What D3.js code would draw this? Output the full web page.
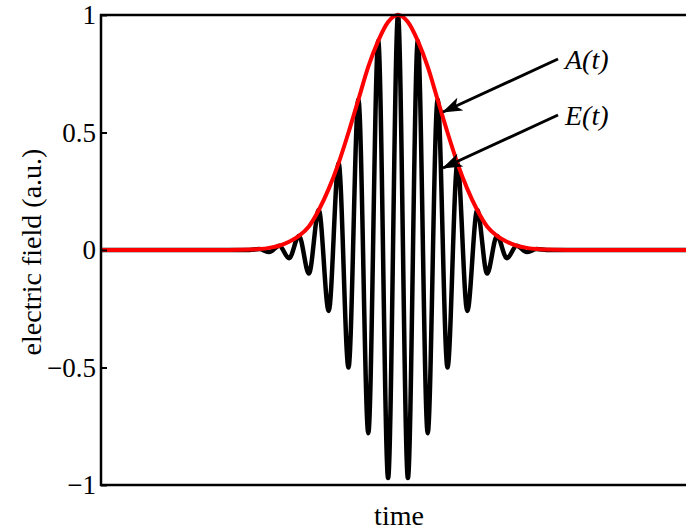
<!DOCTYPE html>
<html><head><meta charset="utf-8">
<script src="https://cdn.jsdelivr.net/npm/d3@7"></script>
<style>
html,body{margin:0;padding:0;background:#fff;overflow:hidden}
text{font-family:"Liberation Serif","Times New Roman",serif;fill:#000}
</style></head>
<body>
<svg id="chart" width="686" height="531"></svg>
<script>
// carrier extrema of E(t) (time in optical cycles, value in a.u.)
const eTimes = [-15, -7.5, -7, -6.5, -6, -5.5, -5, -4.5, -4, -3.5, -3, -2.5, -2, -1.5, -1, -0.5, 0,
                 0.5, 1, 1.5, 2, 2.5, 3, 3.5, 4, 4.5, 5, 5.5, 6, 6.5, 7, 7.5, 15];
const eValues = [0, 0, 0.004, -0.009, 0.018, -0.035, 0.06, -0.10, 0.17, -0.26, 0.37, -0.50, 0.64, -0.78, 0.89, -0.97, 1,
                 -0.97, 0.89, -0.78, 0.64, -0.50, 0.37, -0.26, 0.17, -0.10, 0.06, -0.035, 0.018, -0.009, 0.004, 0, 0];
// envelope A(t)
const aTimes = [-15, -9, -8, -7.5, -7, -6.5, -6, -5.5, -5, -4.5, -4, -3.5, -3, -2.5, -2, -1.5, -1, -0.5, 0,
                 0.5, 1, 1.5, 2, 2.5, 3, 3.5, 4, 4.5, 5, 5.5, 6, 6.5, 7, 7.5, 8, 9, 15];
const aValues = [0, 0, 0.001, 0.002, 0.004, 0.009, 0.018, 0.035, 0.06, 0.10, 0.17, 0.26, 0.37, 0.50, 0.64, 0.78, 0.89, 0.97, 1,
                 0.97, 0.89, 0.78, 0.64, 0.50, 0.37, 0.26, 0.17, 0.10, 0.06, 0.035, 0.018, 0.009, 0.004, 0.002, 0.001, 0, 0];
const yTicks = [-1, -0.5, 0, 0.5, 1];
const yTickLabels = ["\u22121", "\u22120.5", "0", "0.5", "1"];
const xLabel = "time";
const yLabel = "electric field (a.u.)";
const annotations = ["A(t)", "E(t)"];

const svg = d3.select("#chart");
const L = 101, R = 695, T = 15, B = 485;
const x = d3.scaleLinear().domain([-15, 15]).range([L, R]);
const y = d3.scaleLinear().domain([-1, 1]).range([B, T]);

svg.append("defs").append("clipPath").attr("id", "clip")
  .append("rect").attr("x", L).attr("y", T - 3).attr("width", R - L).attr("height", B - T + 6);

const g = svg.append("g").attr("clip-path", "url(#clip)");
const eData = eTimes.map((t, i) => [t, eValues[i]]);
const aData = aTimes.map((t, i) => [t, aValues[i]]);
const line = d3.line().x(d => x(d[0])).y(d => y(d[1])).curve(d3.curveMonotoneX);

g.append("path").datum(eData).attr("d", line)
  .attr("fill", "none").attr("stroke", "#000").attr("stroke-width", 4.5).attr("stroke-linejoin", "round");
g.append("path").datum(aData).attr("d", line)
  .attr("fill", "none").attr("stroke", "#ff0000").attr("stroke-width", 4).attr("stroke-linejoin", "round");

// axes box
const yAxis = d3.axisLeft(y).tickValues(yTicks).tickSize(-6).tickPadding(5)
  .tickFormat((d, i) => yTickLabels[i]);
const ya = svg.append("g").attr("transform", `translate(${L},0)`).call(yAxis);
ya.select(".domain").remove();
ya.selectAll(".tick line").attr("stroke", "#000").attr("stroke-width", 2);
ya.selectAll(".tick text").attr("font-size", 27).attr("font-family", "Liberation Serif");

const sw = 2.5;
svg.append("line").attr("x1", L).attr("x2", L).attr("y1", T - 1).attr("y2", B + 1).attr("stroke", "#000").attr("stroke-width", sw);
svg.append("line").attr("x1", L - 1).attr("x2", R).attr("y1", T).attr("y2", T).attr("stroke", "#000").attr("stroke-width", sw);
svg.append("line").attr("x1", L - 1).attr("x2", R).attr("y1", B).attr("y2", B).attr("stroke", "#000").attr("stroke-width", sw);
svg.append("line").attr("x1", R).attr("x2", R).attr("y1", T).attr("y2", B).attr("stroke", "#000").attr("stroke-width", sw);

svg.append("text").attr("x", (L + R) / 2 + 1).attr("y", 525).attr("text-anchor", "middle")
  .attr("font-size", 28).text(xLabel);
svg.append("text").attr("transform", `translate(41,252) rotate(-90)`)
  .attr("text-anchor", "middle").attr("font-size", 28).text(yLabel);

// annotations with arrows
svg.append("defs").append("marker").attr("id", "arrow")
  .attr("viewBox", "0 0 20 14").attr("refX", 19).attr("refY", 7)
  .attr("markerWidth", 20).attr("markerHeight", 14).attr("markerUnits", "userSpaceOnUse")
  .attr("orient", "auto")
  .append("path").attr("d", "M0,0 L20,7 L0,14 L5,7 Z").attr("fill", "#000");

const labelPos = [[558, 59], [558, 115]];
const tips = [[443, 112], [443, 168]];
annotations.forEach((a, i) => {
  svg.append("line").attr("x1", labelPos[i][0]).attr("y1", labelPos[i][1])
    .attr("x2", tips[i][0]).attr("y2", tips[i][1])
    .attr("stroke", "#000").attr("stroke-width", 3).attr("marker-end", "url(#arrow)");
  svg.append("text").attr("x", labelPos[i][0] + 7).attr("y", labelPos[i][1] + 10)
    .attr("font-size", 28).attr("font-style", "italic").text(a);
});
</script>
</body></html>
